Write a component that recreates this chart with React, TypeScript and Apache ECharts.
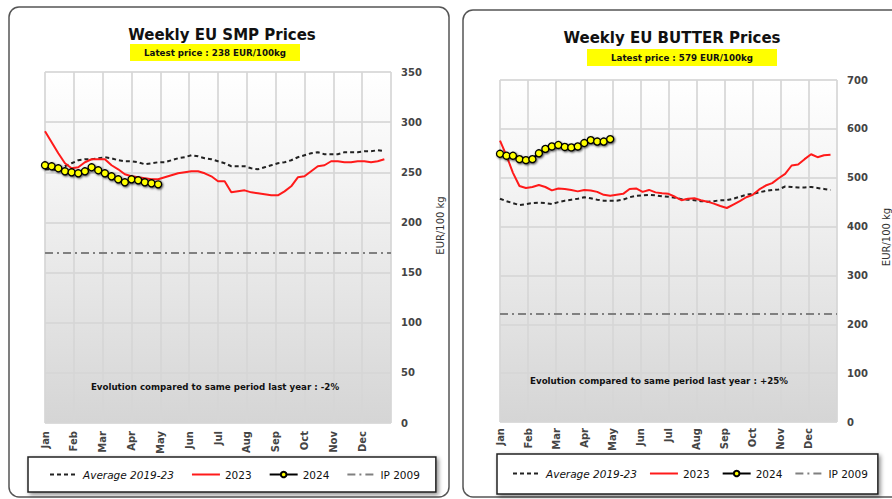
import React, { useEffect, useRef } from "react";
import * as echarts from "echarts";

const MONTHS = ["Jan", "Feb", "Mar", "Apr", "May", "Jun", "Jul", "Aug", "Sep", "Oct", "Nov", "Dec"];
const WEEKS = 52;

// Skimmed milk powder, EUR/100 kg, by week
const smpAvg = [253, 253, 252, 256, 259, 262, 263, 263, 264, 265, 264, 262, 261, 261, 260, 258, 259, 260, 260, 262, 264, 265, 267, 266, 264, 263, 261, 259, 256, 256, 256, 254, 253, 255, 257, 259, 260, 262, 265, 267, 269, 270, 268, 268, 268, 270, 270, 270, 271, 271, 272, 271];
const smp2023 = [291, 280, 269, 259, 254, 255, 260, 263, 263, 263, 257, 253, 248, 246, 245, 244, 243, 243, 245, 247, 249, 250, 251, 251, 249, 246, 241, 241, 230, 231, 232, 230, 229, 228, 227, 227, 231, 236, 245, 246, 251, 256, 257, 261, 261, 260, 260, 261, 261, 260, 261, 263];
const smp2024 = [257, 256, 254, 251, 250, 249, 251, 255, 252, 249, 246, 243, 240, 243, 242, 240, 239, 238];
const SMP_IP = 169.8;

// Butter, EUR/100 kg, by week
const butterAvg = [457, 452, 448, 444, 446, 448, 449, 448, 446, 450, 453, 455, 457, 460, 458, 455, 453, 453, 453, 455, 460, 463, 464, 465, 464, 462, 461, 459, 456, 455, 454, 452, 451, 452, 454, 454, 457, 461, 465, 467, 470, 473, 475, 476, 482, 481, 480, 480, 481, 479, 477, 475];
const butter2023 = [576, 545, 510, 483, 479, 481, 485, 481, 474, 478, 477, 475, 472, 475, 474, 471, 465, 463, 465, 467, 477, 478, 471, 475, 470, 468, 467, 461, 454, 457, 458, 454, 451, 447, 442, 438, 445, 452, 460, 465, 476, 484, 489, 499, 508, 525, 527, 538, 548, 542, 546, 547];
const butter2024 = [549, 545, 545, 538, 536, 538, 550, 559, 564, 567, 563, 562, 564, 571, 577, 574, 574, 579];
const BUTTER_IP = 221.75;

const SMP_MAX = 350, SMP_STEP = 50;
const BUTTER_MAX = 700, BUTTER_STEP = 100;

const NAMES = ["Average 2019-23", "2023", "2024", "IP 2009"];
const FONT = "DejaVu Sans";
const CLEAR = "rgba(0,0,0,0)";

const toPts = (arr: number[]) => arr.map((v, i) => [i, v]);

function bg() {
  return new echarts.graphic.LinearGradient(0, 0, 0, 1, [
    { offset: 0, color: "#ffffff" },
    { offset: 0.3, color: "#f4f4f4" },
    { offset: 1, color: "#d5d5d5" },
  ]);
}

function xAxisFor(gridIndex: number, margin: number) {
  return {
    type: "value",
    gridIndex,
    min: 0,
    max: WEEKS,
    interval: WEEKS / 12,
    axisLine: { show: false },
    axisTick: { show: false },
    splitLine: { show: true, lineStyle: { color: "rgba(214,214,214,0.85)", width: 2 } },
    axisLabel: {
      rotate: 90,
      margin,
      fontFamily: FONT,
      fontSize: 10,
      fontWeight: "bold",
      color: "#444",
      showMaxLabel: false,
      formatter: (v: number) => MONTHS[Math.round(v / (WEEKS / 12))] ?? "",
    },
  };
}

function yAxisFor(gridIndex: number, max: number, step: number, shift: number) {
  return {
    type: "value",
    gridIndex,
    position: "right",
    min: 0,
    max,
    interval: step,
    name: "EUR/100 kg",
    nameLocation: "middle",
    nameRotate: 90,
    nameGap: 44,
    nameTextStyle: { fontFamily: FONT, fontSize: 10, color: "#333", padding: [0, 0, 0, shift] },
    axisLine: { show: false },
    axisTick: { show: false },
    splitLine: { show: true, lineStyle: { color: "rgba(214,214,214,0.85)", width: 2 } },
    axisLabel: { margin: 10, fontFamily: FONT, fontSize: 10, fontWeight: "bold", color: "#444" },
  };
}

function seriesFor(idx: number, avg: number[], y2023: number[], y2024: number[], ip: number) {
  return [
    {
      name: NAMES[0], type: "line", xAxisIndex: idx, yAxisIndex: idx, data: toPts(avg),
      symbol: "none", z: 3,
      lineStyle: { color: "#222", width: 2, type: [4, 3] },
      itemStyle: { color: CLEAR, borderWidth: 0 },
    },
    {
      name: NAMES[1], type: "line", xAxisIndex: idx, yAxisIndex: idx, data: toPts(y2023),
      symbol: "none", z: 4,
      lineStyle: { color: "#ff1a1a", width: 2 },
      itemStyle: { color: CLEAR, borderWidth: 0 },
    },
    {
      name: NAMES[2], type: "line", xAxisIndex: idx, yAxisIndex: idx, data: toPts(y2024),
      symbol: "circle", symbolSize: 7, z: 5,
      lineStyle: { color: "#000", width: 2.5 },
      itemStyle: {
        color: "#ffff00", borderColor: "#000", borderWidth: 1.3,
        shadowColor: "rgba(0,0,0,0.7)", shadowBlur: 2, shadowOffsetX: 1, shadowOffsetY: 1,
      },
    },
    {
      name: NAMES[3], type: "line", xAxisIndex: idx, yAxisIndex: idx, data: [],
      symbol: "none", z: 2,
      lineStyle: { color: "#808080", width: 2, type: [8, 4, 2, 4] },
      itemStyle: { color: CLEAR, borderWidth: 0 },
      markLine: {
        silent: true, symbol: "none", label: { show: false },
        lineStyle: { color: "#808080", width: 2, type: [8, 4, 2, 4] },
        data: [{ yAxis: ip }],
      },
    },
  ];
}

function legendFor(left: number, top: number, padding: number[], gap: number) {
  return {
    left, top, orient: "horizontal",
    itemWidth: 28, itemHeight: 7, itemGap: gap,
    padding,
    backgroundColor: "#fff",
    borderColor: "#222", borderWidth: 1.5,
    shadowColor: "rgba(0,0,0,0.45)", shadowBlur: 4, shadowOffsetX: 2, shadowOffsetY: 2,
    selectedMode: false,
    textStyle: { fontFamily: FONT, fontSize: 10.5, color: "#111" },
    data: [
      { name: NAMES[0], textStyle: { fontStyle: "italic" } },
      { name: NAMES[1] }, { name: NAMES[2] }, { name: NAMES[3] },
    ],
  };
}

export default function App() {
  const ref = useRef<HTMLDivElement>(null);
  useEffect(() => {
    if (!ref.current) return;
    const chart = echarts.init(ref.current, null, { renderer: "svg" });
    const option = {
      animation: false,
      backgroundColor: "#fff",
      grid: [
        { left: 45, top: 72, width: 346, height: 351, show: true, backgroundColor: bg(), borderWidth: 0 },
        { left: 500, top: 80, width: 341, height: 342, show: true, backgroundColor: bg(), borderWidth: 0 },
      ],
      xAxis: [xAxisFor(0, 8), xAxisFor(1, 6)],
      yAxis: [yAxisFor(0, SMP_MAX, SMP_STEP, 44), yAxisFor(1, BUTTER_MAX, BUTTER_STEP, 28)],
      legend: [
        legendFor(28, 457, [12, 16, 12, 21], 17),
        legendFor(497, 454, [14, 10, 15, 15], 12),
      ],
      graphic: [
        { type: "rect", z: -10, silent: true, shape: { x: 9, y: 7, width: 440, height: 490, r: 10 }, style: { fill: "none", stroke: "#555", lineWidth: 1.5 } },
        { type: "rect", z: -10, silent: true, shape: { x: 463, y: 10, width: 460, height: 487, r: 10 }, style: { fill: "none", stroke: "#555", lineWidth: 1.5 } },
        { type: "text", x: 222, y: 35, style: { text: "Weekly EU SMP Prices", fontFamily: FONT, fontSize: 15, fontWeight: "bold", fill: "#111", align: "center", verticalAlign: "middle" } },
        { type: "rect", shape: { x: 130, y: 44, width: 170, height: 17 }, style: { fill: "#ffff00" } },
        { type: "text", x: 215, y: 53, style: { text: "Latest price : 238 EUR/100kg", fontFamily: FONT, fontSize: 8.7, fontWeight: "bold", fill: "#111", align: "center", verticalAlign: "middle" } },
        { type: "text", x: 672, y: 38, style: { text: "Weekly EU BUTTER Prices", fontFamily: FONT, fontSize: 15, fontWeight: "bold", fill: "#111", align: "center", verticalAlign: "middle" } },
        { type: "rect", shape: { x: 587, y: 49, width: 190, height: 17 }, style: { fill: "#ffff00" } },
        { type: "text", x: 682, y: 58, style: { text: "Latest price : 579 EUR/100kg", fontFamily: FONT, fontSize: 8.7, fontWeight: "bold", fill: "#111", align: "center", verticalAlign: "middle" } },
        { type: "text", z: 10, x: 215, y: 387, style: { text: "Evolution compared to same period last year : -2%", fontFamily: FONT, fontSize: 8.7, fontWeight: "bold", fill: "#111", align: "center", verticalAlign: "middle" } },
        { type: "text", z: 10, x: 659, y: 381, style: { text: "Evolution compared to same period last year : +25%", fontFamily: FONT, fontSize: 8.7, fontWeight: "bold", fill: "#111", align: "center", verticalAlign: "middle" } },
      ],
      series: [
        ...seriesFor(0, smpAvg, smp2023, smp2024, SMP_IP),
        ...seriesFor(1, butterAvg, butter2023, butter2024, BUTTER_IP),
      ],
    };
    chart.setOption(option as any);
    return () => chart.dispose();
  }, []);
  return (
    <div
      ref={ref}
      style={{ position: "fixed", left: 0, top: 0, width: 892, height: 499, background: "#fff" }}
    />
  );
}
